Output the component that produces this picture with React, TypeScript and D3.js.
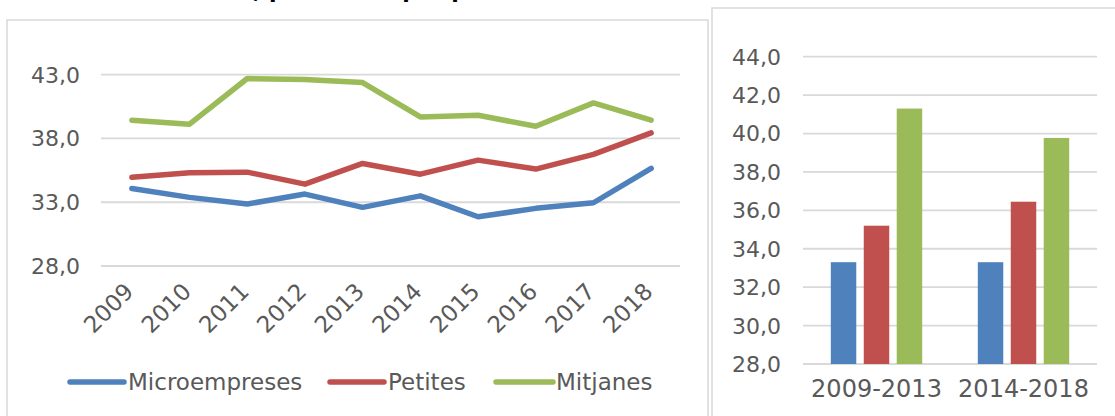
import React from 'react';
import * as d3 from 'd3';

const years = ['2009', '2010', '2011', '2012', '2013', '2014', '2015', '2016', '2017', '2018'];
const micro = [34.08, 33.38, 32.86, 33.64, 32.6, 33.5, 31.86, 32.52, 32.96, 35.65];
const petites = [34.95, 35.31, 35.36, 34.42, 36.04, 35.2, 36.3, 35.6, 36.75, 38.44];
const mitjanes = [39.43, 39.12, 42.7, 42.62, 42.38, 39.69, 39.82, 38.96, 40.79, 39.43];
const lineTicks = [28, 33, 38, 43];

const periods = ['2009-2013', '2014-2018'];
const barMicro = [33.3, 33.3];
const barPetites = [35.2, 36.45];
const barMitjanes = [41.3, 39.77];
const barTicks = [28, 30, 32, 34, 36, 38, 40, 42, 44];

const seriesNames = ['Microempreses', 'Petites', 'Mitjanes'];
const colors = ['#4F81BD', '#C0504D', '#9BBB59'];

const FONT = '"DejaVu Sans", sans-serif';
const TXT = '#595959';
const GRID = '#d9d9d9';

const fmt = (v: number) => v.toFixed(1).replace('.', ',');

export default function App() {
  // Line chart
  const lx = d3.scalePoint<string>().domain(years).range([103, 680]).padding(0.5);
  const ly = d3.scaleLinear().domain([28, 43]).range([266, 74.7]);
  const lineGen = d3
    .line<number>()
    .x((_, i) => lx(years[i]) as number)
    .y((d) => ly(d));
  const lineSeries = [micro, petites, mitjanes];

  // Bar chart
  const bx = d3.scaleBand<string>().domain(periods).range([803, 1097]);
  const inner = d3.scaleBand<string>().domain(seriesNames).range([-45.7, 45.7]).paddingInner(0.227);
  const by = d3.scaleLinear().domain([28, 44]).range([364, 56.7]);
  const barSeries = [barMicro, barPetites, barMitjanes];

  const legendItems = [
    { x1: 70, x2: 124, tx: 128 },
    { x1: 330, x2: 384, tx: 388 },
    { x1: 496, x2: 553, tx: 556 },
  ];

  return (
    <svg
      width={1115}
      height={416}
      style={{ position: 'absolute', left: 0, top: 0, background: '#fff' }}
      fontFamily={FONT}
    >
      <rect x={0} y={0} width={1115} height={416} fill="#fff" />
      {/* cut-off title */}
      <text x={318} y={-2} textAnchor="middle" fontSize={22} fontWeight="bold" fill="#000">
        Pressió fiscal, per mida i per període
      </text>

      {/* panel borders */}
      <rect x={7} y={20} width={701} height={420} fill="none" stroke={GRID} strokeWidth={1.5} />
      <rect x={712} y={8} width={420} height={420} fill="none" stroke={GRID} strokeWidth={1.5} />

      {/* Line chart grid & y labels */}
      {lineTicks.map((t) => (
        <g key={t}>
          <line x1={101} x2={680} y1={ly(t)} y2={ly(t)} stroke={GRID} strokeWidth={1.8} />
          <text x={80} y={ly(t)} dy="0.36em" textAnchor="end" fontSize={22} fill={TXT}>
            {fmt(t)}
          </text>
        </g>
      ))}
      {years.map((y) => (
        <text
          key={y}
          transform={`translate(${(lx(y) as number) + 3},${293}) rotate(-45)`}
          textAnchor="end"
          fontSize={23}
          fill={TXT}
        >
          {y}
        </text>
      ))}
      {lineSeries.map((s, i) => (
        <path
          key={i}
          d={lineGen(s) || ''}
          fill="none"
          stroke={colors[i]}
          strokeWidth={5.5}
          strokeLinejoin="round"
          strokeLinecap="round"
        />
      ))}
      {legendItems.map((it, i) => (
        <g key={i}>
          <line x1={it.x1} x2={it.x2} y1={382} y2={382} stroke={colors[i]} strokeWidth={5.5} strokeLinecap="round" />
          <text x={it.tx} y={382} dy="0.36em" fontSize={23} fill={TXT}>
            {seriesNames[i]}
          </text>
        </g>
      ))}

      {/* Bar chart */}
      {barTicks.map((t) => (
        <g key={t}>
          <line x1={803} x2={1097} y1={by(t)} y2={by(t)} stroke={GRID} strokeWidth={1.8} />
          <text x={781} y={by(t)} dy="0.36em" textAnchor="end" fontSize={22} fill={TXT}>
            {fmt(t)}
          </text>
        </g>
      ))}
      {periods.map((p, pi) => (
        <g key={p} transform={`translate(${(bx(p) as number) + bx.bandwidth() / 2},0)`}>
          {barSeries.map((s, si) => (
            <rect
              key={si}
              x={inner(seriesNames[si]) as number}
              y={by(s[pi])}
              width={inner.bandwidth()}
              height={by(28) - by(s[pi])}
              fill={colors[si]}
            />
          ))}
          <text x={0} y={397} textAnchor="middle" fontSize={24} fill={TXT}>
            {p}
          </text>
        </g>
      ))}
    </svg>
  );
}
